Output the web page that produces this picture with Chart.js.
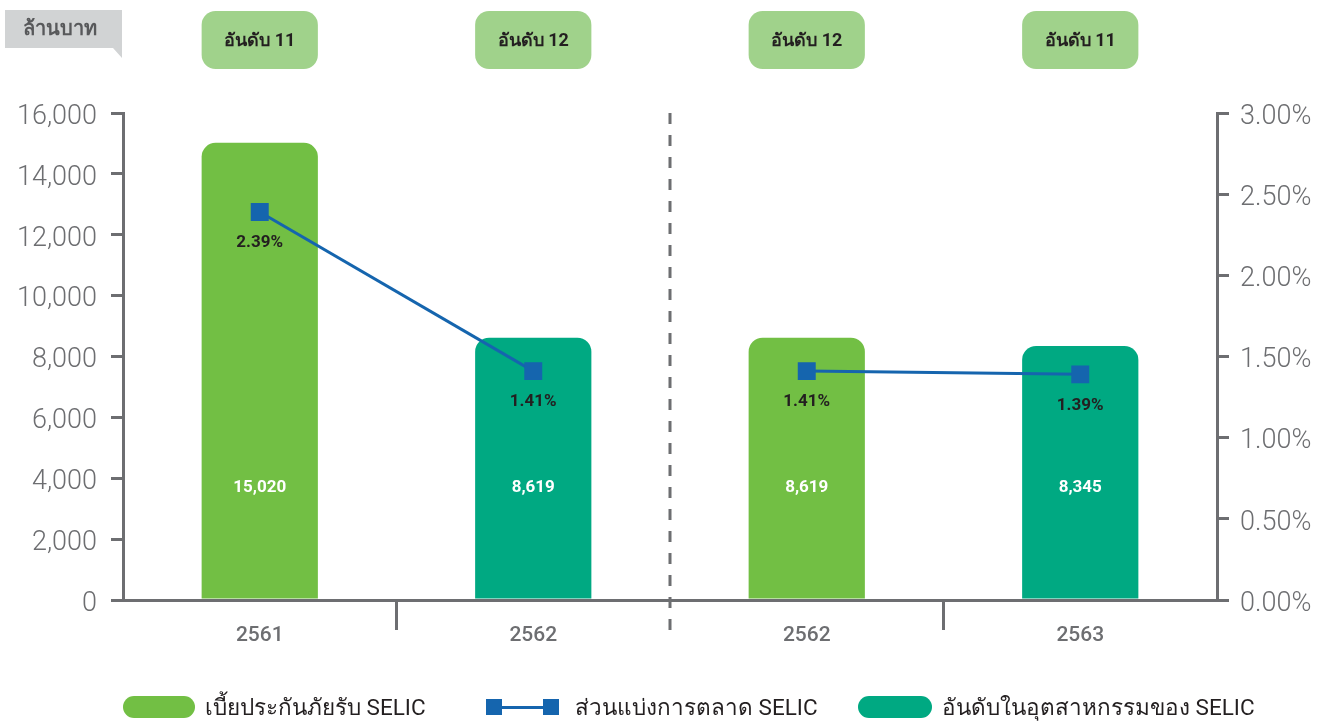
<!DOCTYPE html>
<html>
<head>
<meta charset="utf-8">
<script src="https://cdn.jsdelivr.net/npm/chart.js@4.4.1/dist/chart.umd.min.js"></script>
<style>
  html, body { margin: 0; padding: 0; background: #fff; }
  #wrap { position: relative; width: 1331px; height: 724px; overflow: hidden; }
  #chart { position: absolute; left: 0; top: 0; }
  .legend { position: absolute; top: 694px; height: 26px; display: flex; align-items: center;
    font-family: Roboto, "Noto Sans", sans-serif; font-size: 22.5px; color: #231f20; white-space: nowrap; }
  .pill { width: 72px; height: 22px; border-radius: 11px; margin-right: 10px; }
  .sq { width: 16px; height: 16px; background: #1565ae; }
  .ln { width: 41px; height: 3px; background: #1565ae; }
</style>
</head>
<body>
<div id="wrap">
  <canvas id="chart" width="1331" height="724"></canvas>
  <div class="legend" style="left:123px"><div class="pill" style="background:#72bf44"></div><span id="lg0"></span></div>
  <div class="legend" style="left:486px"><div class="sq"></div><div class="ln"></div><div class="sq"></div><span id="lg1" style="margin-left:16px"></span></div>
  <div class="legend" style="left:858px"><div class="pill" style="background:#00a982;width:74px"></div><span id="lg2"></span></div>
</div>
<script>
// ========== DADOS ==========
const categories = ["2561", "2562", "2562", "2563"];
const premium = [15020, 8619, 8619, 8345];      // ล้านบาท
const marketShare = [2.39, 1.41, 1.41, 1.39];  // %
const rankLabels = ["อันดับ 11", "อันดับ 12", "อันดับ 12", "อันดับ 11"];
const barColors = ["#72bf44", "#00a982", "#72bf44", "#00a982"];
const leftTicks = [0, 2000, 4000, 6000, 8000, 10000, 12000, 14000, 16000];
const rightTicks = [0, 0.5, 1, 1.5, 2, 2.5, 3];
const unitLabel = "ล้านบาท";
const legendLabels = ["เบี้ยประกันภัยรับ SELIC", "ส่วนแบ่งการตลาด SELIC", "อันดับในอุตสาหกรรมของ SELIC"];

const GRAY = "#6d6e71";
const BLUE = "#1565ae";
const thaiFont = 'Roboto, "Noto Sans", sans-serif';

document.getElementById("lg0").textContent = legendLabels[0];
document.getElementById("lg1").textContent = legendLabels[1];
document.getElementById("lg2").textContent = legendLabels[2];

function roundRect(ctx, x, y, w, h, r) {
  ctx.beginPath();
  ctx.moveTo(x + r, y);
  ctx.arcTo(x + w, y, x + w, y + h, r);
  ctx.arcTo(x + w, y + h, x, y + h, r);
  ctx.arcTo(x, y + h, x, y, r);
  ctx.arcTo(x, y, x + w, y, r);
  ctx.closePath();
}

// ========== PLUGIN: caixas, rótulos, divisória ==========
const decorPlugin = {
  id: "decor",
  beforeDatasetsDraw(chart) {
    const { ctx, chartArea, scales } = chart;
    const xs = scales.x;
    ctx.save();
    // divisória tracejada entre os dois períodos
    const xMid = (xs.getPixelForValue(1) + xs.getPixelForValue(2)) / 2;
    ctx.strokeStyle = GRAY;
    ctx.lineWidth = 3;
    ctx.setLineDash([11, 11]);
    ctx.beginPath();
    ctx.moveTo(xMid, chartArea.top);
    ctx.lineTo(xMid, chartArea.bottom + 30);
    ctx.stroke();
    ctx.setLineDash([]);
    // ticks do eixo x (limites de categoria)
    [0.5, 2.5].forEach((v) => {
      const x = (xs.getPixelForValue(Math.floor(v)) + xs.getPixelForValue(Math.ceil(v))) / 2;
      ctx.beginPath();
      ctx.moveTo(x, chartArea.bottom);
      ctx.lineTo(x, chartArea.bottom + 30);
      ctx.stroke();
    });
    ctx.restore();
  },
  afterDatasetsDraw(chart) {
    const { ctx } = chart;
    const bars = chart.getDatasetMeta(1).data;
    const pts = chart.getDatasetMeta(0).data;
    const ys = chart.scales.y;
    ctx.save();
    ctx.textAlign = "center";
    ctx.textBaseline = "middle";
    bars.forEach((bar, i) => {
      const w = bar.width;
      // caixa de ranking
      ctx.fillStyle = "#a0d28b";
      roundRect(ctx, bar.x - w / 2, 11, w, 58, 14);
      ctx.fill();
      ctx.fillStyle = "#231f20";
      ctx.font = "bold 18px " + thaiFont;
      ctx.fillText(rankLabels[i], bar.x, 41);
      // valor da barra
      ctx.fillStyle = "#ffffff";
      ctx.font = "bold 17px Roboto, sans-serif";
      ctx.fillText(premium[i].toLocaleString("en-US"), bar.x, ys.getPixelForValue(3700));
    });
    pts.forEach((p, i) => {
      ctx.fillStyle = "#231f20";
      ctx.font = "bold 17px Roboto, sans-serif";
      ctx.fillText(marketShare[i].toFixed(2) + "%", p.x, p.y + 31);
    });
    // rótulo da unidade
    ctx.fillStyle = "#d1d3d4";
    ctx.beginPath();
    ctx.moveTo(5, 10);
    ctx.lineTo(122, 10);
    ctx.lineTo(122, 58);
    ctx.lineTo(113, 48);
    ctx.lineTo(5, 48);
    ctx.closePath();
    ctx.fill();
    ctx.fillStyle = "#58595b";
    ctx.font = "bold 20px " + thaiFont;
    ctx.fillText(unitLabel, 60, 30);
    ctx.restore();
  },
};

// ========== GRÁFICO ==========
new Chart(document.getElementById("chart").getContext("2d"), {
  data: {
    labels: categories,
    datasets: [
      {
        type: "line",
        label: legendLabels[1],
        data: marketShare,
        yAxisID: "y1",
        order: 0,
        borderColor: BLUE,
        borderWidth: 3,
        pointStyle: "rect",
        pointRadius: 12.7,
        pointHoverRadius: 12.7,
        pointBackgroundColor: BLUE,
        pointBorderWidth: 0,
        tension: 0,
        segment: {
          borderColor: (c) => (c.p0DataIndex === 1 ? "rgba(0,0,0,0)" : BLUE),
        },
      },
      {
        type: "bar",
        label: legendLabels[0],
        data: premium,
        yAxisID: "y",
        order: 1,
        backgroundColor: barColors,
        borderRadius: { topLeft: 14, topRight: 14, bottomLeft: 0, bottomRight: 0 },
        borderSkipped: "bottom",
        barPercentage: 0.85,
        categoryPercentage: 0.5,
      },
    ],
  },
  options: {
    responsive: false,
    animation: false,
    layout: { padding: { top: 113, left: 0, right: 0, bottom: 0 } },
    plugins: { legend: { display: false }, tooltip: { enabled: false } },
    scales: {
      x: {
        afterFit: (s) => { s.height = 124; },
        grid: { display: false },
        border: { color: GRAY, width: 3 },
        ticks: {
          color: GRAY,
          padding: 15,
          font: { family: "Roboto", size: 21, weight: "500" },
        },
      },
      y: {
        position: "left",
        min: 0,
        max: 16000,
        afterFit: (s) => { s.width = 123; },
        afterBuildTicks: (s) => { s.ticks = leftTicks.map((v) => ({ value: v })); },
        border: { color: GRAY, width: 3 },
        grid: { drawOnChartArea: false, drawTicks: true, tickLength: 12, color: GRAY, lineWidth: 3 },
        ticks: {
          color: GRAY,
          padding: 14,
          labelOffset: 4,
          font: { family: "Roboto", size: 27, weight: "300" },
          callback: (v) => v.toLocaleString("en-US"),
        },
      },
      y1: {
        position: "right",
        min: 0,
        max: 3,
        afterFit: (s) => { s.width = 114; },
        afterBuildTicks: (s) => { s.ticks = rightTicks.map((v) => ({ value: v })); },
        border: { color: GRAY, width: 3 },
        grid: { drawOnChartArea: false, drawTicks: true, tickLength: 12, color: GRAY, lineWidth: 3 },
        ticks: {
          color: GRAY,
          padding: 11,
          labelOffset: 4,
          font: { family: "Roboto", size: 27, weight: "300" },
          callback: (v) => v.toFixed(2) + "%",
        },
      },
    },
  },
  plugins: [decorPlugin],
});
</script>
</body>
</html>
